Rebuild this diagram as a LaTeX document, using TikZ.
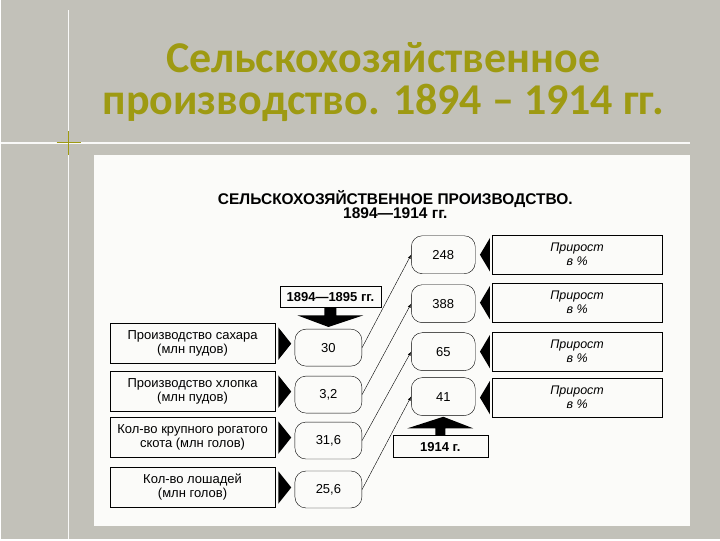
\documentclass[tikz,border=0pt]{standalone}
\usepackage{fontspec}
\setmainfont{Liberation Sans}
\newfontfamily\titlefont{Carlito}
\usetikzlibrary{calc}
\definecolor{slidegrey}{HTML}{C2C1B9}
\definecolor{titleolive}{HTML}{9E9A12}
\definecolor{paper}{HTML}{FBFBF9}
\tikzset{
	factbox/.style={draw,semithick,minimum width=165pt,minimum height=40pt,align=center,inner sep=1pt,font=\fontsize{13}{14}\selectfont},
	valbox/.style={draw,rounded corners=11pt,minimum width=67pt,minimum height=37pt,font=\fontsize{13}{14}\selectfont},
	gainbox/.style={draw,semithick,minimum width=170pt,minimum height=39pt,align=center,font=\fontsize{12.5}{14}\selectfont\itshape},
	yearbox/.style={draw,inner sep=0pt,font=\bfseries\fontsize{13}{14}\selectfont},
	growth/.style={-latex,thin}
}
\begin{document}
\begin{tikzpicture}[x=1pt,y=-1pt]
	\fill [slidegrey] (0,0) rectangle (720,540);
	\draw [white!90!slidegrey,line width=1.5pt] (68,10) -- (68,540);
	\draw [white!90!slidegrey,line width=1.5pt] (0,143) -- (690,143);
	\draw [titleolive,thick] (56,143) -- (80,143) (68,131) -- (68,155);
	\fill [paper] (93,155) rectangle (690,527);
	\node (title) [align=center,text=titleolive,font=\titlefont\bfseries\fontsize{44}{42}\selectfont] at (383,82) {Сельскохозяйственное\\производство. 1894 – 1914 гг.};
	\node (heading) [align=center,font=\bfseries\fontsize{15.5}{14}\selectfont] at (395,205) {СЕЛЬСКОХОЗЯЙСТВЕННОЕ ПРОИЗВОДСТВО.\\1894—1914 гг.};
	\node (sugar) [factbox] at (192,344) {Производство сахара\\(млн пудов)};
	\node (cotton) [factbox] at (192,392) {Производство хлопка\\(млн пудов)};
	\node (cattle) [factbox] at (192,438) {Кол-во крупного рогатого\\скота (млн голов)};
	\node (horses) [factbox] at (192,488) {Кол-во лошадей\\(млн голов)};
	\node (sugarA) [valbox] at (328,348) {30};
	\node (cottonA) [valbox] at (328,395) {3,2};
	\node (cattleA) [valbox] at (328,441) {31,6};
	\node (horsesA) [valbox] at (328,490) {25,6};
	\node (sugarB) [valbox,minimum width=64pt,minimum height=38pt] at (443,255) {248};
	\node (cottonB) [valbox,minimum width=64pt,minimum height=38pt] at (443,304) {388};
	\node (cattleB) [valbox,minimum width=64pt,minimum height=38pt] at (443,352) {65};
	\node (horsesB) [valbox,minimum width=64pt,minimum height=38pt] at (443,397) {41};
	\node (gain1) [gainbox] at (577,255) {Прирост\\в \%};
	\node (gain2) [gainbox] at (577,303) {Прирост\\в \%};
	\node (gain3) [gainbox] at (577,352) {Прирост\\в \%};
	\node (gain4) [gainbox] at (577,398) {Прирост\\в \%};
	\node (start) [yearbox,minimum width=101pt,minimum height=21pt] at (330,297) {1894—1895 гг.};
	\node (finish) [yearbox,minimum width=95pt,minimum height=22pt] at (440,447) {1914 г.};
	\foreach \a in {sugar,cotton,cattle,horses}
		\fill ($(\a.north east)+(3,4)$) -- ($(\a.east)+(16,0)$) -- ($(\a.south east)+(3,-4)$) -- cycle;
	\foreach \b in {1,2,3,4}
		\fill ($(gain\b.north west)+(-2,3)$) -- ($(gain\b.west)+(-12,0)$) -- ($(gain\b.south west)+(-2,-3)$) -- cycle;
	\fill ($(start.south)+(-6,0)$) -- ++(0,8) -- ++(-27,0) -- ($(sugarA.north)+(0,-2)$) -- ($(start.south)+(33,8)$) -- ++(-27,0) -- ++(0,-8) -- cycle;
	\fill ($(finish.north)+(-5,0)$) -- ++(0,-7) -- ++(-28,0) -- ($(horsesB.south)+(0,1)$) -- ($(finish.north)+(33,-7)$) -- ++(-28,0) -- ++(0,7) -- cycle;
	\draw [growth] (sugarA.east) -- (sugarB.west);
	\draw [growth] (cottonA.east) -- (cottonB.west);
	\draw [growth] (cattleA.east) -- (cattleB.west);
	\draw [growth] (horsesA.east) -- (horsesB.west);
\end{tikzpicture}
\end{document}
